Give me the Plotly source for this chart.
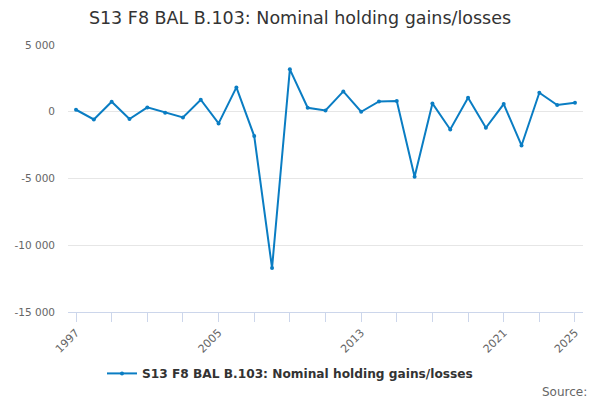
import plotly.graph_objects as go

years = list(range(1997, 2026))
values = [150, -575, 750, -550, 325, -75, -425, 900, -875, 1825, -1825, -11700,
          3175, 300, 100, 1525, 0, 775, 800, -4875, 625, -1325, 1050, -1200,
          575, -2525, 1425, 500, 675]
series_name = "S13 F8 BAL B.103: Nominal holding gains/losses"
title_text = "S13 F8 BAL B.103: Nominal holding gains/losses"
x_tick_vals = list(range(1997, 2026, 2))
x_labelled = [1997, 2005, 2013, 2021, 2025]
y_tick_vals = [5000, 0, -5000, -10000, -15000]
y_tick_text = ["5 000", "0", "-5 000", "-10 000", "-15 000"]

font = "DejaVu Sans"

fig = go.Figure()
fig.add_trace(go.Scatter(
    x=years, y=values, mode="lines+markers", name=series_name,
    line=dict(color="#0a7dc3", width=2),
    marker=dict(size=4, color="#0a7dc3"),
))

tick_vals = sorted(set(x_tick_vals + x_labelled))
tick_text = [str(v) if v in x_labelled else "" for v in tick_vals]

fig.update_layout(
    width=600, height=400,
    paper_bgcolor="white", plot_bgcolor="white",
    font=dict(family=font, color="#666666", size=11),
    title=dict(text=title_text, x=0.5, xanchor="center", y=0.955, yanchor="middle",
               font=dict(family=font, size=17.5, color="#333333")),
    margin=dict(l=68, r=17, t=45, b=88),
    showlegend=True,
    legend=dict(orientation="h", x=0.066, xanchor="left", y=-0.23, yanchor="middle",
                itemwidth=30,
                font=dict(family=font, size=12.2, color="#333333", weight="bold")),
    xaxis=dict(range=[1996.55, 2025.45], tickvals=tick_vals, ticktext=tick_text,
               tickangle=-45, ticks="outside", ticklen=9, tickcolor="#ccd6eb",
               showline=True, linecolor="#ccd6eb", showgrid=False, zeroline=False,
               tickfont=dict(size=11, color="#666666")),
    yaxis=dict(range=[-15000, 5000], tickvals=y_tick_vals, ticktext=y_tick_text,
               showgrid=True, gridcolor="#e6e6e6", zeroline=False, showline=False,
               ticks="", ticklen=0, ticklabelstandoff=12,
               tickfont=dict(size=10.5, color="#666666")),
    annotations=[dict(text="Source:", xref="paper", yref="paper", x=1.012, y=-0.30,
                      xanchor="right", yanchor="middle", showarrow=False,
                      font=dict(family=font, size=12, color="#666666"))],
)

fig.write_html("out.html", config={"displayModeBar": False},
               post_script="document.body.style.margin='0';")
